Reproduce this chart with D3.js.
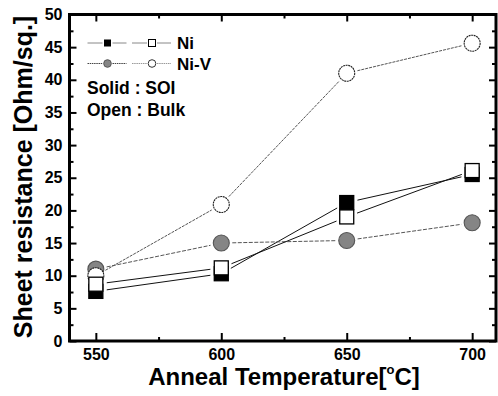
<!DOCTYPE html>
<html>
<head>
<meta charset="utf-8">
<script src="https://cdn.jsdelivr.net/npm/d3@7"></script>
<style>
  body { margin: 0; background: #fff; }
  svg { font-family: 'Liberation Sans', Arial, sans-serif; font-weight: bold; }
</style>
</head>
<body>
<div id="chart"></div>
<script>
// Data
var temps = [550, 600, 650, 700];
var niSoi = [7.6, 10.3, 21.2, 25.5];
var niBulk = [8.7, 11.2, 19.0, 26.1];
var nivSoi = [11.0, 15.0, 15.4, 18.1];
var nivBulk = [10.0, 20.9, 41.0, 45.6];
var xTicks = [550, 600, 650, 700];
var xMinor = [575, 625, 675];
var yTicks = [0, 5, 10, 15, 20, 25, 30, 35, 40, 45, 50];
var yMinor = [2.5, 7.5, 12.5, 17.5, 22.5, 27.5, 32.5, 37.5, 42.5, 47.5];

var width = 498, height = 396;
var x = d3.scaleLinear().domain([539.5, 709.5]).range([69.5, 496]);
var y = d3.scaleLinear().domain([0, 50]).range([341, 14.5]);

var svg = d3.select('#chart').append('svg')
    .attr('width', width)
    .attr('height', height);

// Axes (ticks point inward)
function styleAxis(g) {
    g.select('.domain').remove();
    g.selectAll('line').attr('stroke', '#000').attr('stroke-width', 2);
    g.selectAll('text').attr('fill', '#000').style('font-size', '16px').style('font-weight', 'bold')
        .style('font-family', "'Liberation Sans', Arial, sans-serif");
}

svg.append('g').attr('transform', 'translate(' + x.range()[0] + ',0)')
    .call(d3.axisLeft(y).tickValues(yTicks).tickSizeInner(-7).tickSizeOuter(0).tickPadding(7))
    .call(styleAxis);
svg.append('g').attr('transform', 'translate(' + x.range()[0] + ',0)')
    .call(d3.axisLeft(y).tickValues(yMinor).tickSize(-4).tickFormat(''))
    .call(styleAxis);
svg.append('g').attr('transform', 'translate(' + x.range()[1] + ',0)')
    .call(d3.axisRight(y).tickValues(yTicks).tickSize(-7).tickFormat(''))
    .call(styleAxis);
svg.append('g').attr('transform', 'translate(' + x.range()[1] + ',0)')
    .call(d3.axisRight(y).tickValues(yMinor).tickSize(-4).tickFormat(''))
    .call(styleAxis);

svg.append('g').attr('transform', 'translate(0,' + y.range()[0] + ')')
    .call(d3.axisBottom(x).tickValues(xTicks).tickSizeInner(-8).tickSizeOuter(0).tickPadding(8))
    .call(styleAxis);
svg.append('g').attr('transform', 'translate(0,' + y.range()[0] + ')')
    .call(d3.axisBottom(x).tickValues(xMinor).tickSize(-4).tickFormat(''))
    .call(styleAxis);
svg.append('g').attr('transform', 'translate(0,' + y.range()[1] + ')')
    .call(d3.axisTop(x).tickValues(xTicks).tickSize(-7).tickFormat(''))
    .call(styleAxis);
svg.append('g').attr('transform', 'translate(0,' + y.range()[1] + ')')
    .call(d3.axisTop(x).tickValues(xMinor).tickSize(-4).tickFormat(''))
    .call(styleAxis);

// Frame
svg.append('rect')
    .attr('x', x.range()[0]).attr('y', y.range()[1])
    .attr('width', x.range()[1] - x.range()[0])
    .attr('height', y.range()[0] - y.range()[1])
    .attr('fill', 'none').attr('stroke', '#000').attr('stroke-width', 3);

// Axis titles
var xt = svg.append('text')
    .attr('x', 284).attr('y', 385)
    .attr('text-anchor', 'middle')
    .style('font-size', '24px');
xt.append('tspan').text('Anneal Temperature[');
xt.append('tspan').attr('dy', -11).style('font-size', '13px').text('o');
xt.append('tspan').attr('dy', 11).text('C]');

svg.append('text')
    .attr('transform', 'translate(32,177) rotate(-90)')
    .attr('text-anchor', 'middle')
    .style('font-size', '25px')
    .text('Sheet resistance [Ohm/sq.]');

// Series
var series = [
    { vals: niSoi, marker: 'square', fill: '#000', stroke: '#000', dash: null, lineColor: '#111' },
    { vals: nivSoi, marker: 'circle', fill: '#858585', stroke: '#555', dash: '4,1.5', lineColor: '#555' },
    { vals: nivBulk, marker: 'circle', fill: '#fff', stroke: '#222', dash: '3,1', lineColor: '#555' },
    { vals: niBulk, marker: 'square', fill: '#fff', stroke: '#000', dash: null, lineColor: '#111' }
];

var gap = 11;
series.forEach(function (s) {
    var pts = temps.map(function (t, i) { return [x(t), y(s.vals[i])]; });
    var segs = d3.pairs(pts).map(function (p) {
        var dx = p[1][0] - p[0][0], dy = p[1][1] - p[0][1];
        var len = Math.sqrt(dx * dx + dy * dy);
        var ux = dx / len, uy = dy / len;
        return [[p[0][0] + ux * gap, p[0][1] + uy * gap], [p[1][0] - ux * gap, p[1][1] - uy * gap]];
    });
    svg.append('g').selectAll('line').data(segs).enter().append('line')
        .attr('x1', function (d) { return d[0][0]; })
        .attr('y1', function (d) { return d[0][1]; })
        .attr('x2', function (d) { return d[1][0]; })
        .attr('y2', function (d) { return d[1][1]; })
        .attr('stroke', s.lineColor)
        .attr('stroke-width', 1)
        .attr('stroke-dasharray', s.dash);
});

series.forEach(function (s) {
    var g = svg.append('g');
    if (s.marker === 'square') {
        g.selectAll('rect').data(temps).enter().append('rect')
            .attr('x', function (d) { return x(d) - 7; })
            .attr('y', function (d, i) { return y(s.vals[i]) - 7; })
            .attr('width', 14).attr('height', 14)
            .attr('fill', s.fill).attr('stroke', s.stroke).attr('stroke-width', 1.3);
    } else {
        g.selectAll('circle').data(temps).enter().append('circle')
            .attr('cx', function (d) { return x(d); })
            .attr('cy', function (d, i) { return y(s.vals[i]); })
            .attr('r', 8)
            .attr('fill', s.fill).attr('stroke', s.stroke).attr('stroke-width', 1.1)
            .attr('stroke-dasharray', s.fill === '#fff' ? '2,0.6' : null);
    }
});

// Legend: line - marker - line, twice per row
var leg = svg.append('g');
function legPiece(cx, yy, color, dash) {
    leg.append('line').attr('x1', cx - 20).attr('x2', cx - 5).attr('y1', yy).attr('y2', yy)
        .attr('stroke', color).attr('stroke-width', 1).attr('stroke-dasharray', dash);
    leg.append('line').attr('x1', cx + 5).attr('x2', cx + 19).attr('y1', yy).attr('y2', yy)
        .attr('stroke', color).attr('stroke-width', 1).attr('stroke-dasharray', dash);
}
legPiece(107.5, 43, '#888', null);
leg.append('rect').attr('x', 104).attr('y', 39.5).attr('width', 7).attr('height', 7).attr('fill', '#000');
legPiece(152, 43, '#888', null);
leg.append('rect').attr('x', 148.5).attr('y', 39.5).attr('width', 7).attr('height', 7)
    .attr('fill', '#fff').attr('stroke', '#000').attr('stroke-width', 1);
legPiece(107.5, 63.5, '#444', '1.5,0.7');
leg.append('circle').attr('cx', 107.5).attr('cy', 63.5).attr('r', 3.8).attr('fill', '#858585').attr('stroke', '#555');
legPiece(152, 63.5, '#999', '1.5,0.7');
leg.append('circle').attr('cx', 152).attr('cy', 63.5).attr('r', 3.8).attr('fill', '#fff').attr('stroke', '#333');
leg.append('text').attr('x', 177).attr('y', 49).style('font-size', '17px').text('Ni');
leg.append('text').attr('x', 177).attr('y', 69.5).style('font-size', '17px').text('Ni-V');
leg.append('text').attr('x', 87).attr('y', 93.5).style('font-size', '17.5px').text('Solid : SOI');
leg.append('text').attr('x', 87).attr('y', 116).style('font-size', '17.5px').text('Open : Bulk');
</script>
</body>
</html>
